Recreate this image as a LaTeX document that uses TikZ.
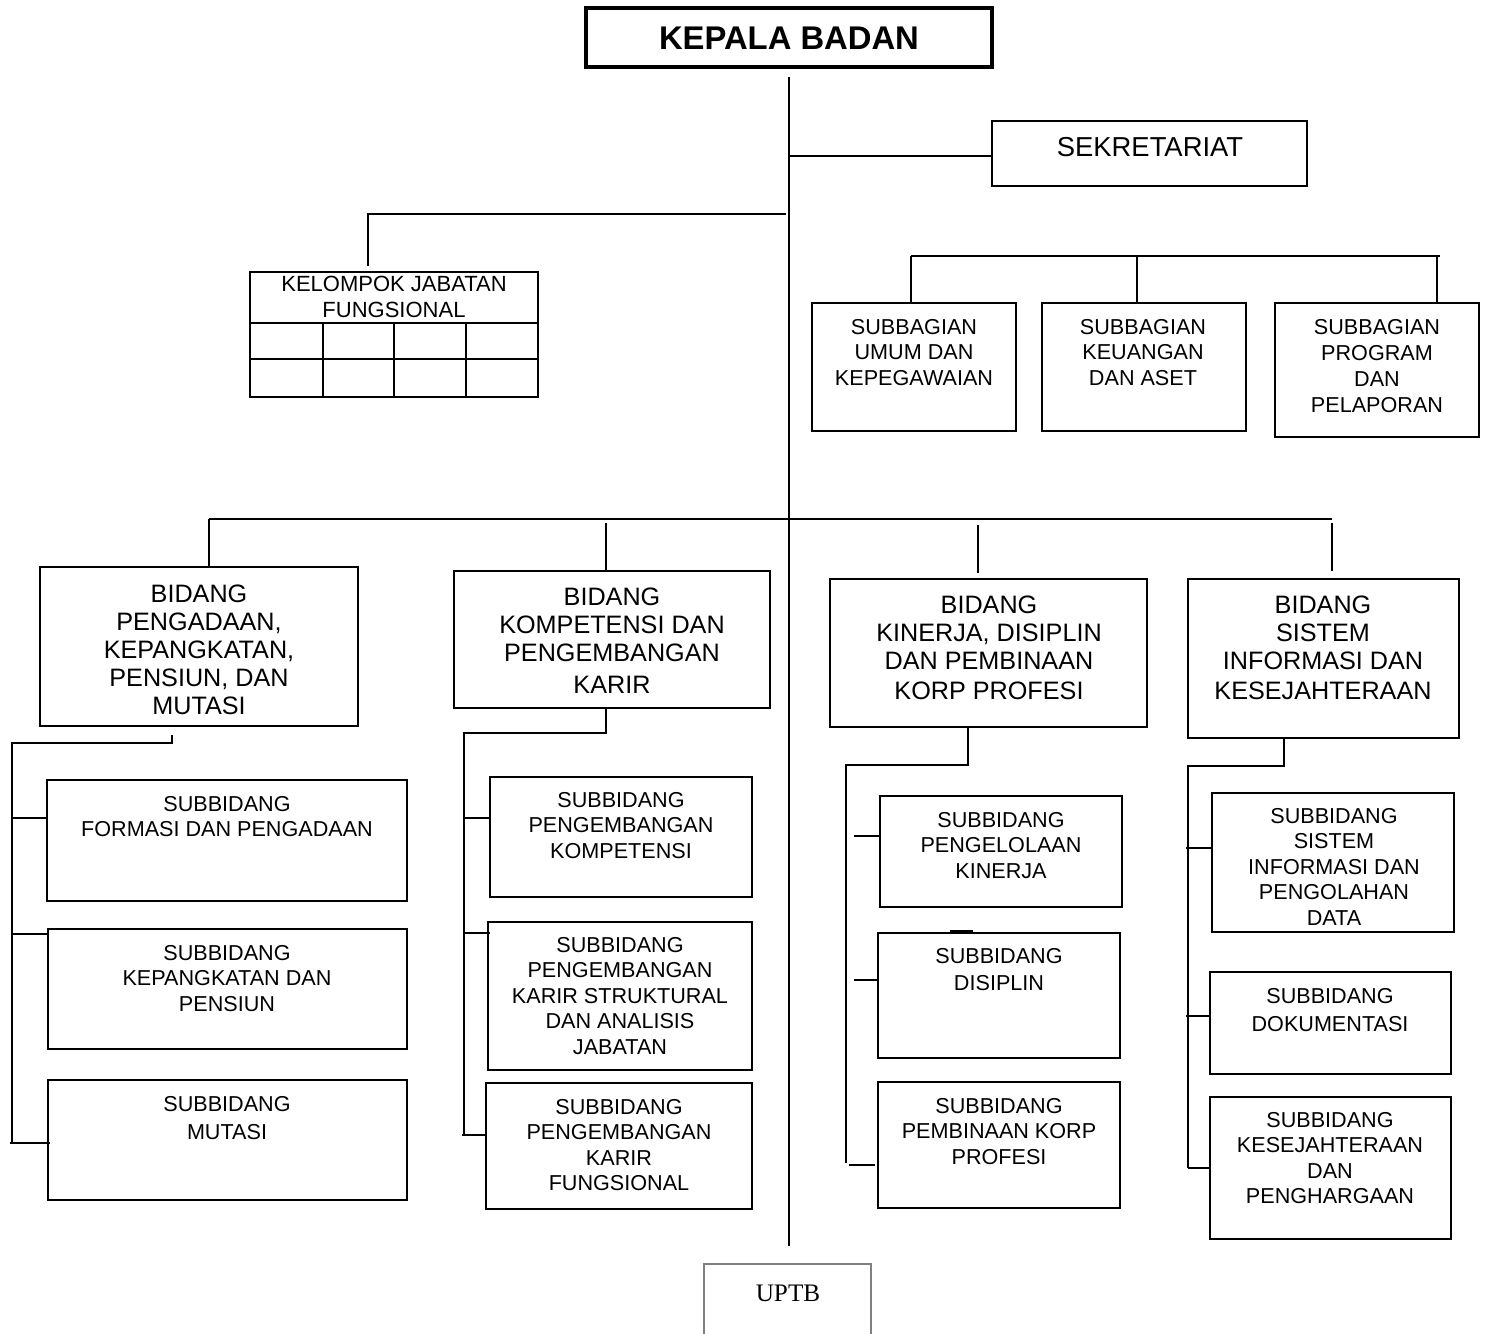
\documentclass[tikz,border=0pt]{standalone}
\usepackage{fontspec}
\setmainfont{Liberation Sans}
\newfontfamily\uptbfont{Liberation Serif}
\usetikzlibrary{calc}
\tikzset{
  x=0.5pt, y=-0.5pt,
  boxsty/.style={draw, line width=1pt, inner sep=0pt, outer sep=0pt},
  ln/.style={line width=1pt},
  smalltxt/.style={inner sep=0pt, align=center, anchor=north, font=\fontsize{10.8}{12.75}\selectfont},
  bigtxt/.style={inner sep=0pt, align=center, anchor=north, font=\fontsize{12.6}{14}\selectfont},
}
\newcommand\orgbox[6][]{%
  \node[boxsty,#1,anchor=north west,minimum width={(#5-#3)*0.5pt},minimum height={(#6-#4)*0.5pt}] (#2) at (#3,#4) {};}
\begin{document}
\begin{tikzpicture}
\useasboundingbox (0,0) rectangle (1485,1334);
% --- top
\orgbox[line width=1.6pt]{kb}{586}{8}{992}{67}
\node[inner sep=0pt, font=\fontsize{16.4}{18}\selectfont\bfseries] (kbt) at (789,38) {KEPALA BADAN};
\orgbox{sek}{992}{121}{1307}{186}
\node[inner sep=0pt, font=\fontsize{13.7}{16}\selectfont] (sekt) at (1150,147) {SEKRETARIAT};
\coordinate (mtop) at (789,77);
\coordinate (mbot) at (789,1246);
\draw[ln] (mtop) -- (mbot);
\draw[ln] (789,156) -- (sek.west |- 0,156);
% --- kelompok jabatan fungsional
\orgbox{kjf}{250}{272}{538}{397}
\node[smalltxt, font=\fontsize{11}{13}\selectfont] (kjft) at (394,276) {KELOMPOK JABATAN\\FUNGSIONAL};
\draw[line width=1pt] (kjf.west |- 0,323) -- (kjf.east |- 0,323);
\draw[line width=1pt] (kjf.west |- 0,359) -- (kjf.east |- 0,359);
\foreach \cx in {323,394,466} \draw[line width=1pt] (\cx,323) -- (\cx,397);
\coordinate (kjfh) at (367,214);
\draw[ln] (786,214) -- (kjfh);
\draw[ln] (368,214) -- (368,266);
% --- subbagian
\orgbox{sb1}{812}{303}{1016}{431}
\orgbox{sb2}{1042}{303}{1246}{431}
\orgbox{sb3}{1275}{303}{1479}{437}
\node[smalltxt] (sb1t) at (914,319) {SUBBAGIAN\\UMUM DAN\\KEPEGAWAIAN};
\node[smalltxt] (sb2t) at (1143,319) {SUBBAGIAN\\KEUANGAN\\DAN ASET};
\node[smalltxt, font=\fontsize{10.8}{13}\selectfont] (sb3t) at (1377,319) {SUBBAGIAN\\PROGRAM\\DAN\\PELAPORAN};
\draw[ln] (911,256) -- (1440,256);
\draw[ln] (911,256) -- (911,303);
\draw[ln] (1137,256) -- (1137,303);
\draw[ln] (1437,256) -- (1437,303);
% --- bidang
\draw[ln] (209,519) -- (1332,519);
\orgbox{b1}{40}{567}{358}{726}
\orgbox{b2}{454}{571}{770}{708}
\orgbox{b3}{830}{579}{1147}{727}
\orgbox{b4}{1188}{579}{1459}{738}
\draw[ln] (209,519) -- (209,567);
\draw[ln] (606,523) -- (606,571);
\draw[ln] (978,525) -- (978,573);
\draw[ln] (1332,523) -- (1332,571);
\node[bigtxt] (b1t) at (199,584) {BIDANG\\PENGADAAN,\\KEPANGKATAN,\\PENSIUN, DAN\\MUTASI};
\node[bigtxt] (b2t) at (612,587) {BIDANG\\KOMPETENSI DAN\\PENGEMBANGAN\\[2pt]KARIR};
\node[bigtxt] (b3t) at (989,595) {BIDANG\\KINERJA, DISIPLIN\\DAN PEMBINAAN\\[1pt]KORP PROFESI};
\node[bigtxt] (b4t) at (1323,595) {BIDANG\\SISTEM\\INFORMASI DAN\\[1pt]KESEJAHTERAAN};
% --- bidang 1 subs
\orgbox{s11}{47}{780}{407}{901}
\orgbox{s12}{48}{929}{407}{1049}
\orgbox{s13}{48}{1080}{407}{1200}
\node[smalltxt] (s11t) at (227,796) {SUBBIDANG\\FORMASI DAN PENGADAAN};
\node[smalltxt] (s12t) at (227,945) {SUBBIDANG\\KEPANGKATAN DAN\\PENSIUN};
\node[smalltxt, font=\fontsize{10.8}{14}\selectfont] (s13t) at (227,1096) {SUBBIDANG\\MUTASI};
\draw[ln] (172,735) -- (172,743) -- (12,743) -- (12,1143);
\draw[ln] (12,818) -- (s11.west |- 0,818);
\draw[ln] (12,934) -- (48,934);
\draw[ln] (10,1143) -- (50,1143);
% --- bidang 2 subs
\orgbox{s21}{490}{777}{752}{897}
\orgbox{s22}{488}{922}{752}{1070}
\orgbox{s23}{486}{1083}{752}{1209}
\node[smalltxt] (s21t) at (621,792) {SUBBIDANG\\PENGEMBANGAN\\KOMPETENSI};
\node[smalltxt] (s22t) at (620,937) {SUBBIDANG\\PENGEMBANGAN\\KARIR STRUKTURAL\\DAN ANALISIS\\JABATAN};
\node[smalltxt] (s23t) at (619,1099) {SUBBIDANG\\PENGEMBANGAN\\KARIR\\FUNGSIONAL};
\draw[ln] (b2.south -| 606,0) -- (606,733) -- (464,733) -- (464,1135);
\draw[ln] (464,818) -- (s21.west |- 0,818);
\draw[ln] (464,933) -- (490,933);
\draw[ln] (462,1135) -- (486,1135);
% --- bidang 3 subs
\orgbox{s31}{880}{796}{1122}{907}
\orgbox{s32}{878}{933}{1120}{1058}
\orgbox{s33}{878}{1082}{1120}{1208}
\node[smalltxt] (s31t) at (1001,812) {SUBBIDANG\\PENGELOLAAN\\KINERJA};
\node[smalltxt, font=\fontsize{10.8}{13.5}\selectfont] (s32t) at (999,948) {SUBBIDANG\\DISIPLIN};
\node[smalltxt] (s33t) at (999,1098) {SUBBIDANG\\PEMBINAAN KORP\\PROFESI};
\draw[ln] (b3.south -| 968,0) -- (968,765) -- (846,765) -- (846,1163);
\draw[ln] (854,836) -- (s31.west |- 0,836);
\draw[ln] (854,980) -- (s32.west |- 0,980);
\draw[ln] (849,1165) -- (875,1165);
\draw[ln] (950,931) -- (973,931);
% --- bidang 4 subs
\orgbox{s41}{1212}{793}{1454}{932}
\orgbox{s42}{1210}{972}{1451}{1074}
\orgbox{s43}{1210}{1097}{1451}{1239}
\node[smalltxt] (s41t) at (1334,808) {SUBBIDANG\\SISTEM\\INFORMASI DAN\\PENGOLAHAN\\DATA};
\node[smalltxt, font=\fontsize{10.8}{14}\selectfont] (s42t) at (1330,988) {SUBBIDANG\\DOKUMENTASI};
\node[smalltxt] (s43t) at (1330,1112) {SUBBIDANG\\KESEJAHTERAAN\\DAN\\PENGHARGAAN};
\draw[ln] (b4.south -| 1284,0) -- (1284,766) -- (1188,766) -- (1188,1168);
\draw[ln] (1186,848) -- (s41.west |- 0,848);
\draw[ln] (1186,1016) -- (s42.west |- 0,1016);
\draw[ln] (1188,1168) -- (1210,1168);
% --- UPTB
\node[inner sep=0pt, outer sep=0pt, anchor=north west, minimum width={167*0.5pt}, minimum height={72*0.5pt}] (uptb) at (704,1264) {};
\draw[line width=1pt, gray] (uptb.south west) -- (uptb.north west) -- (uptb.north east) -- (uptb.south east);
\node[inner sep=0pt, font=\uptbfont\fontsize{12.6}{14}\selectfont] (uptbt) at (788,1293) {UPTB};
\end{tikzpicture}
\end{document}
